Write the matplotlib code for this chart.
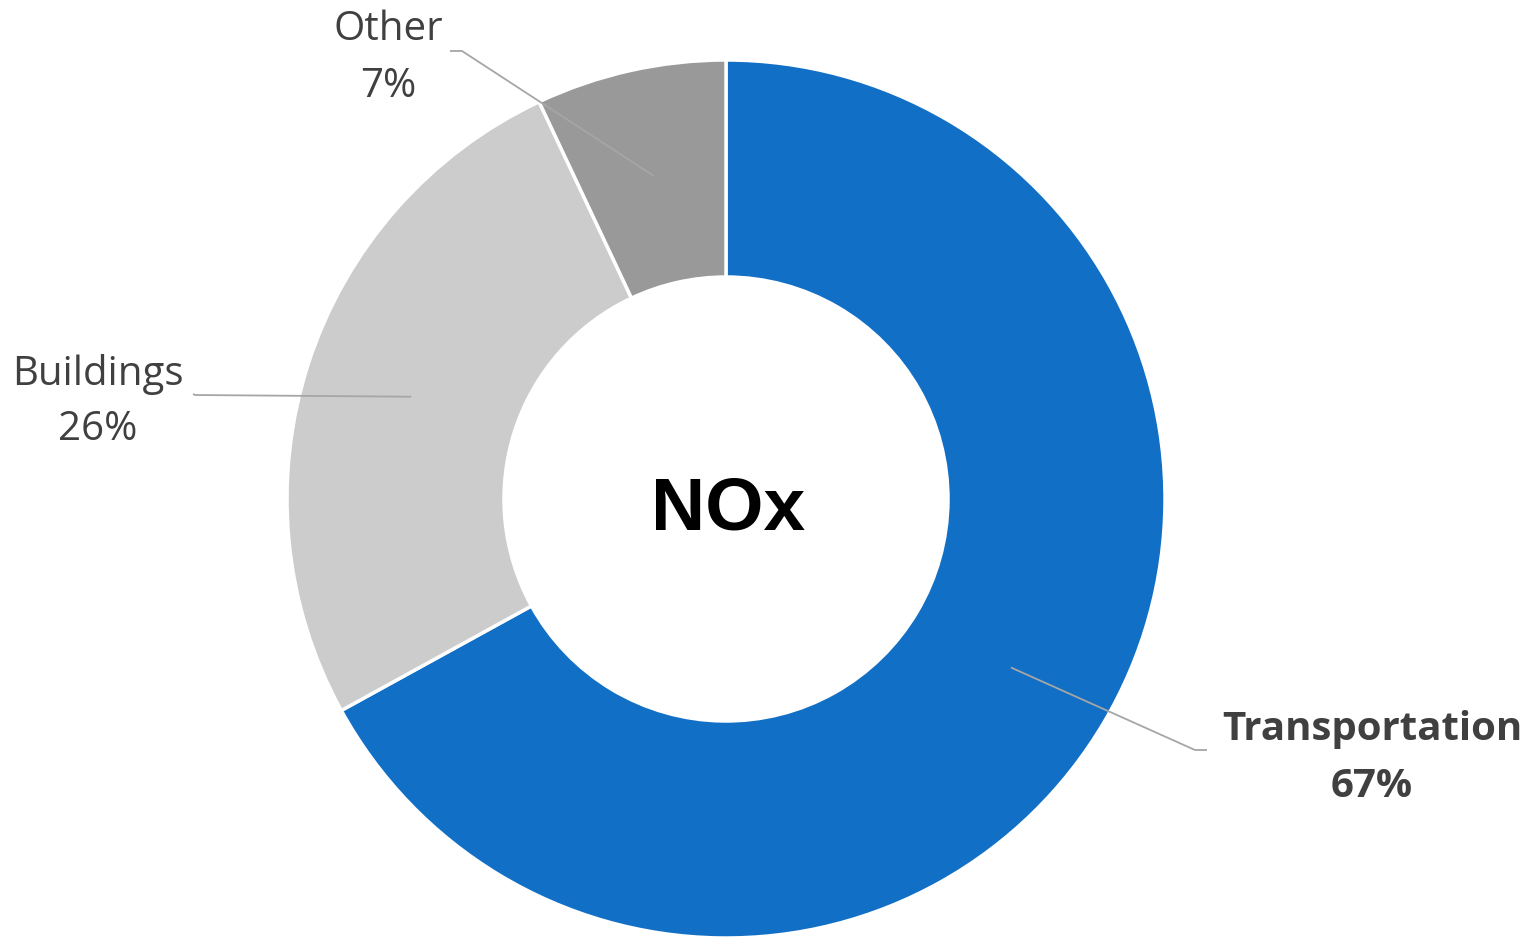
import numpy as np
import matplotlib
matplotlib.use("Agg")
import matplotlib.pyplot as plt

categories = ["Transportation", "Buildings", "Other"]
values = [67, 26, 7]
pct_labels = ["67%", "26%", "7%"]
colors = ["#116FC6", "#CCCCCC", "#999999"]
center_title = "NOx"

W, H = 1535, 938
fig = plt.figure(figsize=(W / 100, H / 100), dpi=100)
ax = fig.add_axes([0, 0, 1, 1])

cx, cy = 726, H - 499
R, r_in = 439, 222

wedges, _ = ax.pie(values, colors=colors, startangle=90, counterclock=False,
                   radius=R, center=(cx, cy),
                   wedgeprops=dict(width=R - r_in, edgecolor="white", linewidth=2.5),
                   frame=True)
ax.set_xlim(0, W)
ax.set_ylim(0, H)
ax.set_aspect("equal")
ax.axis("off")

ax.text(728, H - 530, center_title, ha="center", va="baseline",
        fontsize=54, fontweight="bold", family="Liberation Sans", color="black")

font = "Open Sans"
tc = "#404040"
lc = "#A6A6A6"
layout = {
    "Transportation": dict(x=1372, yb1=740, yb2=797, elbow=(1195, 750), end=(1207, 750), bold=True),
    "Buildings": dict(x=98, yb1=385, yb2=440, elbow=(195, 395), end=(193, 394), bold=False),
    "Other": dict(x=388, yb1=40, yb2=97, elbow=(462, 51), end=(450, 51), bold=False),
}
for w, cat, pl in zip(wedges, categories, pct_labels):
    L = layout[cat]
    mid = np.deg2rad((w.theta1 + w.theta2) / 2)
    sx, sy = cx + 331 * np.cos(mid), cy + 331 * np.sin(mid)
    ex, ey = L["elbow"]
    fx, fy = L["end"]
    ax.plot([sx, ex, fx], [sy, H - ey, H - fy], color=lc, lw=1.3, solid_capstyle="butt")
    fw = "bold" if L["bold"] else "normal"
    ax.text(L["x"], H - L["yb1"], cat, ha="center", va="baseline", fontsize=29,
            family=font, fontweight=fw, color=tc)
    ax.text(L["x"], H - L["yb2"], pl, ha="center", va="baseline", fontsize=29,
            family=font, fontweight=fw, color=tc)

fig.savefig("out.png", dpi=100)
